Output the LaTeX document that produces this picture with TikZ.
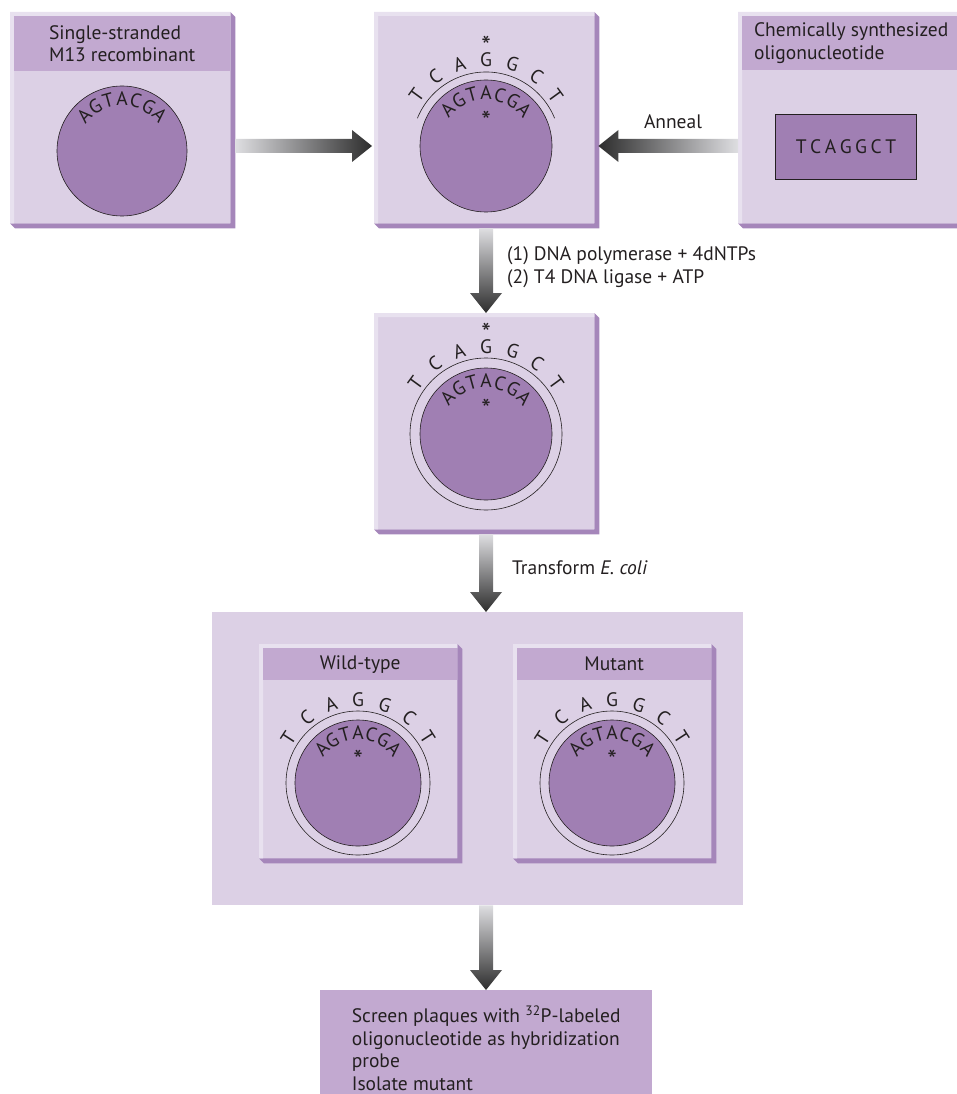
\documentclass[tikz,border=0pt]{standalone}
\usepackage{fontspec}
\setmainfont{PT Sans}
\usetikzlibrary{calc, positioning}

\definecolor{boxfill}{RGB}{220,208,229}
\definecolor{headc}{RGB}{194,169,208}
\definecolor{bevelc}{RGB}{165,134,186}
\definecolor{rimc}{RGB}{232,225,239}
\definecolor{discc}{RGB}{160,127,179}
\definecolor{ink}{RGB}{35,31,32}
\definecolor{arrlight}{RGB}{222,222,225}
\definecolor{arrdark}{RGB}{45,45,45}

\begin{document}
\begin{tikzpicture}[
    x=1pt, y=1pt,
    font=\fontsize{19.5}{22.5}\selectfont,
    box/.style={rectangle, fill=boxfill, inner sep=0pt, anchor=north west},
    hdr/.style={rectangle, fill=headc, inner sep=0pt, anchor=north west,
                align=left, text=ink},
    disc/.style={circle, draw=ink, fill=discc, line width=0.6pt, inner sep=0pt},
    strand/.style={draw=ink, line width=0.6pt},
    base/.style={inner sep=0pt, text=ink, font=\fontsize{19.5}{19.5}\selectfont},
    star/.style={inner sep=0pt, text=ink, font=\fontsize{27}{27}\selectfont},
    note/.style={text=ink, align=left, anchor=west, inner sep=0pt},
    pics/inner/.style={code={
        \node[disc, minimum size={2*#1}] (-core) {};
        \foreach \b [count=\i] in {A,G,T,A,C,G,A}
            \node[base, rotate={(4-\i)*15.5}] (-in\i) at ({90+(4-\i)*15.5}:{#1-13}) {\b};
    }},
    pics/outer/.style args={#1/#2}{code={
        \foreach \b [count=\i] in {T,C,A,G,G,C,T}
            \node[base, rotate={(4-\i)*#2}] (-out\i) at ({90+(4-\i)*#2}:{#1}) {\b};
    }},
]

\useasboundingbox (0,0) rectangle (956,-1094);

% === Boxes ===

\node[box, minimum width=220pt, minimum height=211pt] (single) at (10,-12) {};
\node[box, minimum width=220pt, minimum height=211pt] (annealed) at (374,-12) {};
\node[box, minimum width=222pt, minimum height=211pt] (oligo) at (738,-12) {};
\node[box, minimum width=220pt, minimum height=216pt] (ligated) at (374,-313) {};
\node[box, minimum width=531pt, minimum height=293pt] (plate) at (212,-612) {};
\node[box, minimum width=198pt, minimum height=214pt] (wild) at (259,-644) {};
\node[box, minimum width=198pt, minimum height=214pt] (mutant) at (513,-644) {};

% bevel on right/bottom, light rim on top/left
\foreach \b in {single,annealed,oligo,ligated,wild,mutant} {
    \fill[bevelc] (\b.north east) -- ++(5,-5) |- ($(\b.south west)+(5,-5)$)
        -- (\b.south west) -- (\b.south east) -- cycle;
    \fill[rimc] (\b.south west) -- (\b.north west) -- (\b.north east)
        -- ($(\b.north east)+(0,-4)$) -- ($(\b.north west)+(4,-4)$)
        -- ($(\b.south west)+(4,0)$) -- cycle;
}

% headers
\node[hdr, minimum width=216pt, minimum height=55pt] (single-h)
    at ($(single.north west)+(4,-4)$) {Single-stranded\\M13 recombinant};
\node[hdr, minimum width=218pt, minimum height=54pt] (oligo-h)
    at ($(oligo.north west)+(4,-4)$) {Chemically synthesized\\oligonucleotide};
\node[hdr, minimum width=194pt, minimum height=32pt] (wild-h)
    at ($(wild.north west)+(4,-4)$) {Wild-type};
\node[hdr, minimum width=194pt, minimum height=32pt] (mutant-h)
    at ($(mutant.north west)+(4,-4)$) {Mutant};

% === Single strand ===
\pic (ss) at (122,-151) {inner=65};

% === Annealed ===
\pic (an) at (486,-146) {inner=66};
\draw[strand] ($(an-core)+(158:74)$) arc (158:22:74);
\pic (an) at (486,-146) {outer=86/18};
\node[star] (an-s1) at ($(an-core)+(0,25)$) {*};
\node[star] (an-s2) at ($(an-core)+(0,100)$) {*};

% === Oligo ===
\node[rectangle, draw=ink, fill=discc, line width=0.6pt, minimum width=141pt,
      minimum height=65pt, text=ink] (probe) at (846,-147)
    {T\kern3.5pt C\kern3.5pt A\kern3.5pt G\kern3.5pt G\kern3.5pt C\kern3.5pt T};

% === Ligated ===
\draw[strand, fill=boxfill] (486,-434) circle (76);
\pic (lg) at (486,-434) {inner=66};
\pic (lg) at (486,-434) {outer=87/18};
\node[star] (lg-s1) at ($(lg-core)+(0,25)$) {*};
\node[star] (lg-s2) at ($(lg-core)+(0,101)$) {*};

% === Progeny ===
\draw[strand, fill=boxfill] (358,-783) circle (72);
\pic (wt) at (358,-783) {inner=63};
\pic (wt) at (358,-783) {outer=83/19};
\node[star] (wt-s1) at ($(wt-core)+(0,23)$) {*};

\draw[strand, fill=boxfill] (612,-783) circle (72);
\pic (mt) at (612,-783) {inner=63};
\pic (mt) at (612,-783) {outer=83/19};
\node[star] (mt-s1) at ($(mt-core)+(0,23)$) {*};

% === Screening ===
\node[rectangle, fill=headc, inner sep=0pt, minimum width=332pt, minimum height=116pt,
      align=left, text=ink, anchor=north west] (screen) at (320,-990)
    {Screen plaques with \textsuperscript{32}P-labeled\\oligonucleotide as hybridization\\probe\\Isolate mutant};

% === Arrows ===
\shade[left color=arrlight, right color=arrdark]
    ($(single.east |- an-core)+(5,7)$) -- ($(annealed.west |- an-core)+(-22,7)$)
    -- ++(0,9) -- ($(annealed.west |- an-core)+(-2,0)$) -- ++(-20,-16) -- ++(0,9)
    -- ($(single.east |- an-core)+(5,-7)$) -- cycle;
\shade[left color=arrdark, right color=arrlight]
    ($(oligo.west |- an-core)+(0,7)$) -- ($(annealed.east |- an-core)+(24,7)$)
    -- ++(0,9) -- ($(annealed.east |- an-core)+(4,0)$) -- ++(20,-16) -- ++(0,9)
    -- ($(oligo.west |- an-core)+(0,-7)$) -- cycle;
\shade[top color=arrlight, bottom color=arrdark]
    ($(an-core |- annealed.south)+(-7,-5)$) -- ($(an-core |- ligated.north)+(-7,20)$)
    -- ++(-9,0) -- (an-core |- ligated.north) -- ++(16,20) -- ++(-9,0)
    -- ($(an-core |- annealed.south)+(7,-5)$) -- cycle;
\shade[top color=arrlight, bottom color=arrdark]
    ($(an-core |- ligated.south)+(-7,-5)$) -- ($(an-core |- plate.north)+(-7,20)$)
    -- ++(-9,0) -- (an-core |- plate.north) -- ++(16,20) -- ++(-9,0)
    -- ($(an-core |- ligated.south)+(7,-5)$) -- cycle;
\shade[top color=arrlight, bottom color=arrdark]
    ($(an-core |- plate.south)+(-7,0)$) -- ($(an-core |- screen.north)+(-7,20)$)
    -- ++(-9,0) -- (an-core |- screen.north) -- ++(16,20) -- ++(-9,0)
    -- ($(an-core |- plate.south)+(7,0)$) -- cycle;

% === Labels ===
\node[text=ink, inner sep=0pt] (anneal) at (673,-122) {Anneal};
\node[note] (enzymes) at (507,-267) {(1) DNA polymerase + 4dNTPs\\(2) T4 DNA ligase + ATP};
\node[note] (transform) at (512,-568) {Transform \textit{E. coli}};

\end{tikzpicture}
\end{document}
